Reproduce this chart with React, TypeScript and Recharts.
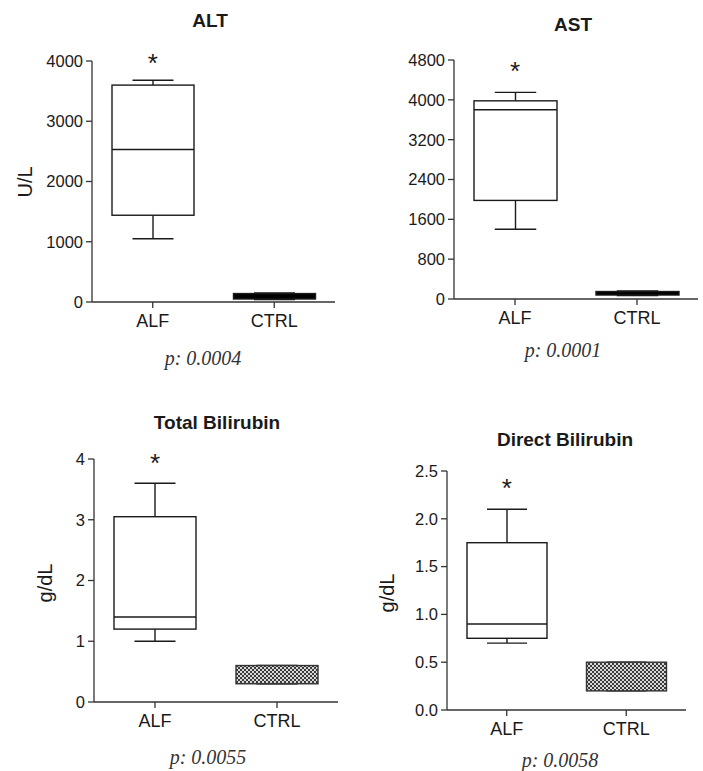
import { ComposedChart, Bar, XAxis, YAxis, ReferenceDot } from "recharts";

const groups = ["ALF", "CTRL"];

// five-number summaries per group: [min, q1, median, q3, max]
const altValues = [
  [1050, 1440, 2530, 3600, 3680],
  [40, 50, 90, 140, 150],
];
const astValues = [
  [1400, 1980, 3800, 3980, 4150],
  [70, 80, 110, 150, 160],
];
const totalBiliValues = [
  [1.0, 1.2, 1.4, 3.05, 3.6],
  [0.3, 0.3, 0.45, 0.6, 0.6],
];
const directBiliValues = [
  [0.7, 0.75, 0.9, 1.75, 2.1],
  [0.2, 0.2, 0.35, 0.5, 0.5],
];

const altTicks = [0, 1000, 2000, 3000, 4000];
const astTicks = [0, 800, 1600, 2400, 3200, 4000, 4800];
const totalBiliTicks = [0, 1, 2, 3, 4];
const directBiliTicks = [0, 0.5, 1, 1.5, 2, 2.5];

const titles = ["ALT", "AST", "Total Bilirubin", "Direct Bilirubin"];
const pValues = ["p: 0.0004", "p: 0.0001", "p: 0.0055", "p: 0.0058"];

const SANS = "'Liberation Sans', Arial, sans-serif";
const SERIF = "'Liberation Serif', 'DejaVu Serif', serif";
const INK = "#1a1a1a";

const toRows = (values: number[][]) =>
  groups.map((g, i) => ({
    group: g,
    min: values[i][0],
    q1: values[i][1],
    median: values[i][2],
    q3: values[i][3],
    max: values[i][4],
  }));

function BoxShape(props: any) {
  const { x, y, width, height, payload, ctrlStyle, pid } = props;
  const { min, q1, median, q3, max } = payload;
  const top = Math.min(y, y + height);
  const h = Math.abs(height);
  const span = max - min || 1;
  const py = (v: number) => top + ((max - v) / span) * h;
  const cx = x + width / 2;
  const cap = width / 4;
  const style = payload.group === "ALF" ? "open" : ctrlStyle;
  const fill =
    style === "open" ? "#fff" : style === "solid" ? "#000" : `url(#chk-${pid})`;
  const sw = 1.4;
  return (
    <g>
      {style === "pattern" && (
        <defs>
          <pattern id={`chk-${pid}`} width="4" height="4" patternUnits="userSpaceOnUse">
            <rect width="4" height="4" fill="#d8d8d8" />
            <rect width="2" height="2" fill="#3a3a3a" />
            <rect x="2" y="2" width="2" height="2" fill="#3a3a3a" />
          </pattern>
        </defs>
      )}
      <line x1={cx} x2={cx} y1={py(max)} y2={py(q3)} stroke={INK} strokeWidth={sw} />
      <line x1={cx} x2={cx} y1={py(q1)} y2={py(min)} stroke={INK} strokeWidth={sw} />
      <line x1={cx - cap} x2={cx + cap} y1={py(max)} y2={py(max)} stroke={INK} strokeWidth={sw} />
      <line x1={cx - cap} x2={cx + cap} y1={py(min)} y2={py(min)} stroke={INK} strokeWidth={sw} />
      <rect
        x={x}
        y={py(q3)}
        width={width}
        height={py(q1) - py(q3)}
        fill={fill}
        stroke={style === "pattern" ? "#333" : INK}
        strokeWidth={sw}
      />
      {style === "open" && (
        <line x1={x} x2={x + width} y1={py(median)} y2={py(median)} stroke={INK} strokeWidth={sw} />
      )}
    </g>
  );
}

function Panel(props: any) {
  const { id, values, ticks, decimals, ctrlStyle, starY, box, plot, barSize } = props;
  const rows = toRows(values);
  const yW = 60;
  const xH = 30;
  const axisStyle = { stroke: "#333", strokeWidth: 1.3 };
  return (
    <div style={{ position: "absolute", left: box.left, top: box.top }}>
      <ComposedChart
        width={box.width}
        height={box.height}
        data={rows}
        margin={{
          top: plot.y0 - box.top,
          bottom: box.top + box.height - plot.y1 - xH,
          left: plot.x0 - box.left - yW,
          right: box.left + box.width - plot.x1,
        }}
      >
        <XAxis
          dataKey="group"
          height={xH}
          axisLine={axisStyle}
          tickLine={axisStyle}
          tickMargin={6}
          tick={{ fill: INK, fontSize: 18, fontFamily: SANS }}
        />
        <YAxis
          type="number"
          width={yW}
          domain={[0, ticks[ticks.length - 1]]}
          ticks={ticks}
          interval={0}
          axisLine={axisStyle}
          tickLine={axisStyle}
          tickMargin={3}
          tick={{ fill: INK, fontSize: 16.5, fontFamily: SANS }}
          tickFormatter={(v: number) => v.toFixed(decimals)}
        />
        <Bar
          dataKey={(d: any) => [d.min, d.max]}
          barSize={barSize}
          isAnimationActive={false}
          shape={(p: any) => <BoxShape {...p} ctrlStyle={ctrlStyle} pid={id} />}
        />
        <ReferenceDot
          x="ALF"
          y={starY}
          r={0}
          ifOverflow="visible"
          shape={(p: any) => (
            <text
              x={p.cx}
              y={p.cy + 15}
              textAnchor="middle"
              fontSize={26}
              fontFamily={SANS}
              fill={INK}
            >
              *
            </text>
          )}
        />
      </ComposedChart>
    </div>
  );
}

function Text(props: any) {
  const { x, y, size, children, bold, italic, serif, rotate, color } = props;
  return (
    <div
      style={{
        position: "absolute",
        left: x,
        top: y,
        transform: `translate(-50%, -50%)${rotate ? " rotate(-90deg)" : ""}`,
        fontSize: size,
        lineHeight: 1,
        whiteSpace: "nowrap",
        fontWeight: bold ? "bold" : "normal",
        fontStyle: italic ? "italic" : "normal",
        fontFamily: serif ? SERIF : SANS,
        color: color || INK,
      }}
    >
      {children}
    </div>
  );
}

export default function App() {
  return (
    <div style={{ position: "absolute", left: 0, top: 0, width: 703, height: 771, background: "#fff" }}>
      <Panel
        id="alt"
        values={altValues}
        ticks={altTicks}
        decimals={0}
        ctrlStyle="solid"
        starY={4060}
        barSize={82}
        box={{ left: 0, top: 0, width: 350, height: 385 }}
        plot={{ x0: 92, x1: 335, y0: 61, y1: 302 }}
      />
      <Panel
        id="ast"
        values={astValues}
        ticks={astTicks}
        decimals={0}
        ctrlStyle="solid"
        starY={4700}
        barSize={83}
        box={{ left: 350, top: 0, width: 353, height: 385 }}
        plot={{ x0: 454, x1: 698, y0: 60, y1: 299 }}
      />
      <Panel
        id="tbil"
        values={totalBiliValues}
        ticks={totalBiliTicks}
        decimals={0}
        ctrlStyle="pattern"
        starY={4.03}
        barSize={82}
        box={{ left: 0, top: 385, width: 350, height: 386 }}
        plot={{ x0: 94, x1: 338, y0: 459, y1: 702 }}
      />
      <Panel
        id="dbil"
        values={directBiliValues}
        ticks={directBiliTicks}
        decimals={1}
        ctrlStyle="pattern"
        starY={2.38}
        barSize={80}
        box={{ left: 350, top: 385, width: 353, height: 386 }}
        plot={{ x0: 447, x1: 686, y0: 471, y1: 710 }}
      />

      <Text x={210} y={20} size={19} bold>{titles[0]}</Text>
      <Text x={573} y={24} size={19} bold>{titles[1]}</Text>
      <Text x={217} y={422} size={19} bold>{titles[2]}</Text>
      <Text x={565} y={439} size={19} bold>{titles[3]}</Text>

      <Text x={25} y={182} size={20} rotate>U/L</Text>
      <Text x={45} y={583} size={20} rotate>g/dL</Text>
      <Text x={387} y={593} size={20} rotate>g/dL</Text>

      <Text x={203} y={358} size={20} italic serif color="#333">{pValues[0]}</Text>
      <Text x={563} y={350} size={20} italic serif color="#333">{pValues[1]}</Text>
      <Text x={208} y={757} size={20} italic serif color="#333">{pValues[2]}</Text>
      <Text x={560} y={760} size={20} italic serif color="#333">{pValues[3]}</Text>
    </div>
  );
}
